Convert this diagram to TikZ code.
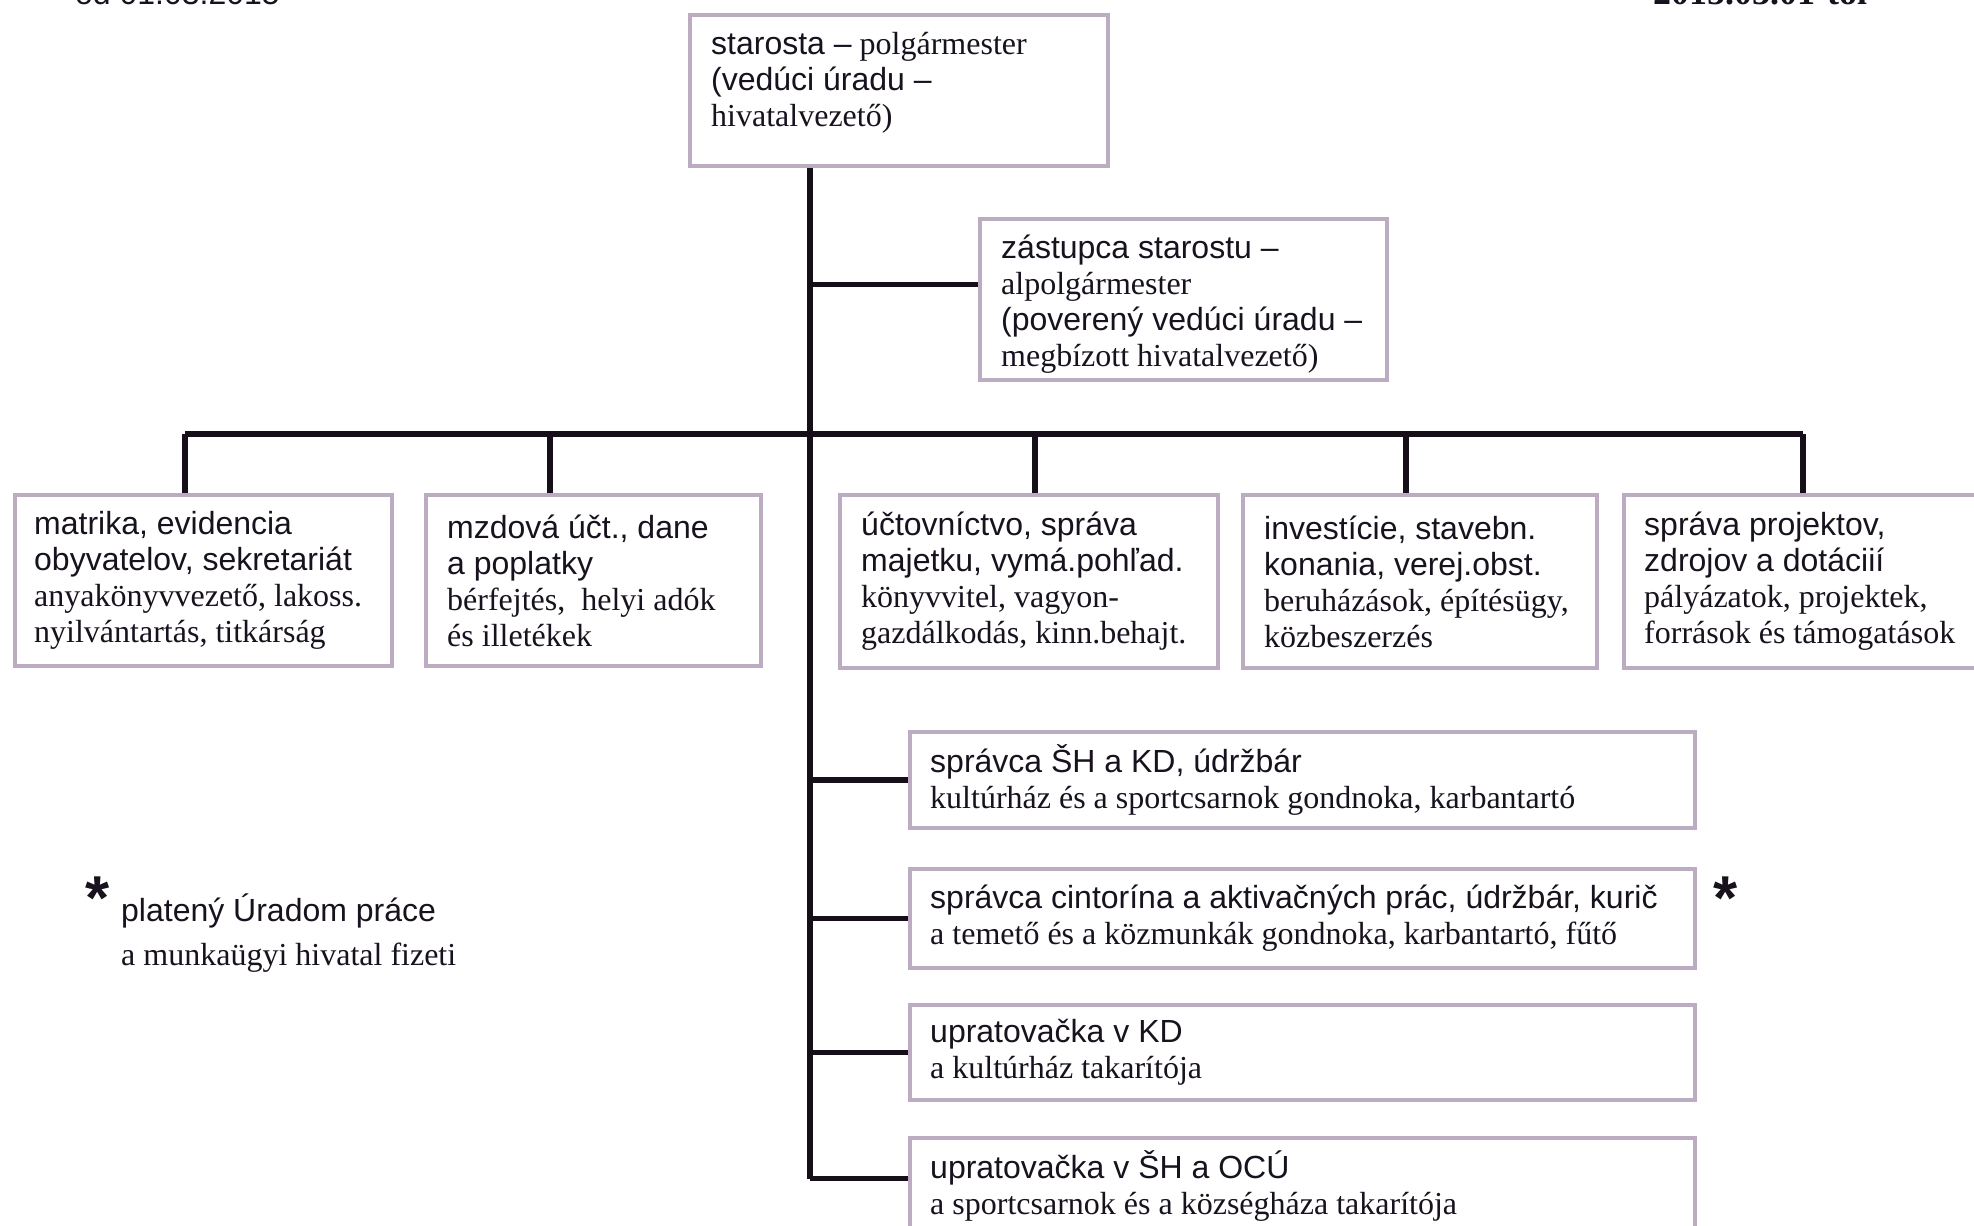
\documentclass[tikz,border=0pt]{standalone}
\usepackage{fontspec}
\setmainfont{Liberation Serif}
\setsansfont{Liberation Sans}
\usetikzlibrary{calc}
\definecolor{boxc}{RGB}{188,172,194}
\definecolor{linec}{RGB}{22,14,24}
\definecolor{inkc}{RGB}{24,18,30}
\tikzset{
  x=1pt, y=-1pt,
  orgbox/.style={draw=boxc, line width=4pt, fill=white, anchor=north west, inner sep=0pt},
  txt/.style={anchor=west, align=left, inner sep=0pt, text=inkc, font=\fontsize{32}{36}\selectfont},
  conn/.style={draw=linec, line width=5.5pt},
  star/.style={anchor=base, inner sep=0pt, text=inkc, font=\fontsize{62}{62}\selectfont\sffamily\bfseries}
}
\begin{document}
\begin{tikzpicture}
\fill[white] (0,0) rectangle (1974,1226);
\useasboundingbox (0,0) rectangle (1974,1226);

% header texts, cut by the top edge as in the reference
\node[anchor=base west, inner sep=0pt, text=inkc, font=\fontsize{32}{36}\selectfont\sffamily] (hl) at (75,5) {od 01.03.2015};
\node[anchor=base west, inner sep=0pt, text=inkc, font=\fontsize{36}{40}\selectfont\bfseries] (hr) at (1653,5) {2015.03.01-tól};

% boxes
\node[orgbox, minimum width=418pt, minimum height=151pt] (top) at (688,13) {};
\node[orgbox, minimum width=407pt, minimum height=161pt] (dep) at (978,217) {};
\node[orgbox, minimum width=377pt, minimum height=171pt] (b1) at (13,493) {};
\node[orgbox, minimum width=335pt, minimum height=171pt] (b2) at (424,493) {};
\node[orgbox, minimum width=378pt, minimum height=173pt] (b3) at (838,493) {};
\node[orgbox, minimum width=354pt, minimum height=173pt] (b4) at (1241,493) {};
\node[orgbox, minimum width=380pt, minimum height=173pt] (b5) at (1622,493) {};
\node[orgbox, minimum width=785pt, minimum height=96pt] (la) at (908,730) {};
\node[orgbox, minimum width=785pt, minimum height=99pt] (lb) at (908,867) {};
\node[orgbox, minimum width=785pt, minimum height=95pt] (lc) at (908,1003) {};
\node[orgbox, minimum width=785pt, minimum height=100pt] (ld) at (908,1136) {};

% texts
\node[txt] (topt) at ([xshift=23pt,yshift=8pt]top.west) {{\sffamily starosta –} polgármester\\{\sffamily (vedúci úradu –}\\hivatalvezető)};
\node[txt] (dept) at ([xshift=23pt,yshift=-5pt]dep.west) {{\sffamily zástupca starostu –}\\alpolgármester\\{\sffamily (poverený vedúci úradu –}\\megbízott hivatalvezető)};
\node[txt] (b1t) at ([xshift=21pt]b1.west) {{\sffamily matrika, evidencia}\\{\sffamily obyvatelov, sekretariát}\\anyakönyvvezető, lakoss.\\nyilvántartás, titkárság};
\node[txt] (b2t) at ([xshift=23pt]b2.west) {{\sffamily mzdová účt., dane}\\{\sffamily a poplatky}\\bérfejtés,~ helyi adók\\és illetékek};
\node[txt] (b3t) at ([xshift=23pt]b3.west) {{\sffamily účtovníctvo, správa}\\{\sffamily majetku, vymá.pohľad.}\\könyvvitel, vagyon-\\gazdálkodás, kinn.behajt.};
\node[txt] (b4t) at ([xshift=23pt]b4.west) {{\sffamily investície, stavebn.}\\{\sffamily konania, verej.obst.}\\beruházások, építésügy,\\közbeszerzés};
\node[txt] (b5t) at ([xshift=22pt]b5.west) {{\sffamily správa projektov,}\\{\sffamily zdrojov a dotáciií}\\pályázatok, projektek,\\források és támogatások};
\node[txt] (lat) at ([xshift=22pt]la.west) {{\sffamily správca ŠH a KD, údržbár}\\kultúrház és a sportcsarnok gondnoka, karbantartó};
\node[txt] (lbt) at ([xshift=22pt]lb.west) {{\sffamily správca cintorína a aktivačných prác, údržbár, kurič}\\a temető és a közmunkák gondnoka, karbantartó, fűtő};
\node[txt] (lct) at ([xshift=22pt]lc.west) {{\sffamily upratovačka v KD}\\a kultúrház takarítója};
\node[txt] (ldt) at ([xshift=22pt,yshift=2pt]ld.west) {{\sffamily upratovačka v ŠH a OCÚ}\\a sportcsarnok és a községháza takarítója};

% footnote
\node[star] (s1) at (98,919) {*};
\node[star] (s2) at (1726,919) {*};
\node[txt] (fn) at (121,933) {{\sffamily platený Úradom práce}\\[8pt]a munkaügyi hivatal fizeti};

% connectors
\coordinate (tx) at (810,0);
\coordinate (d1) at (185,434);
\coordinate (d2) at (550,434);
\coordinate (d3) at (1035,434);
\coordinate (d4) at (1406,434);
\coordinate (d5) at (1803,434);
\coordinate (dj) at ($(dep.north west)!0.41!(dep.south west)$);
\coordinate (dd) at ($(ld.north west)!0.41!(ld.south west)$);

\draw[conn] (top.south -| tx) -- (dd -| tx);
\draw[conn] (dj -| tx) -- (dj);
\draw[conn] (d1) -- (d5);
\draw[conn] (d1) -- (d1 |- b1.north);
\draw[conn] (d2) -- (d2 |- b2.north);
\draw[conn] (d3) -- (d3 |- b3.north);
\draw[conn] (d4) -- (d4 |- b4.north);
\draw[conn] (d5) -- (d5 |- b5.north);
\draw[conn] (la.west -| tx) -- (la.west);
\draw[conn] (lb.west -| tx) -- (lb.west);
\draw[conn] (lc.west -| tx) -- (lc.west);
\draw[conn] (dd -| tx) -- (dd);
\end{tikzpicture}
\end{document}
